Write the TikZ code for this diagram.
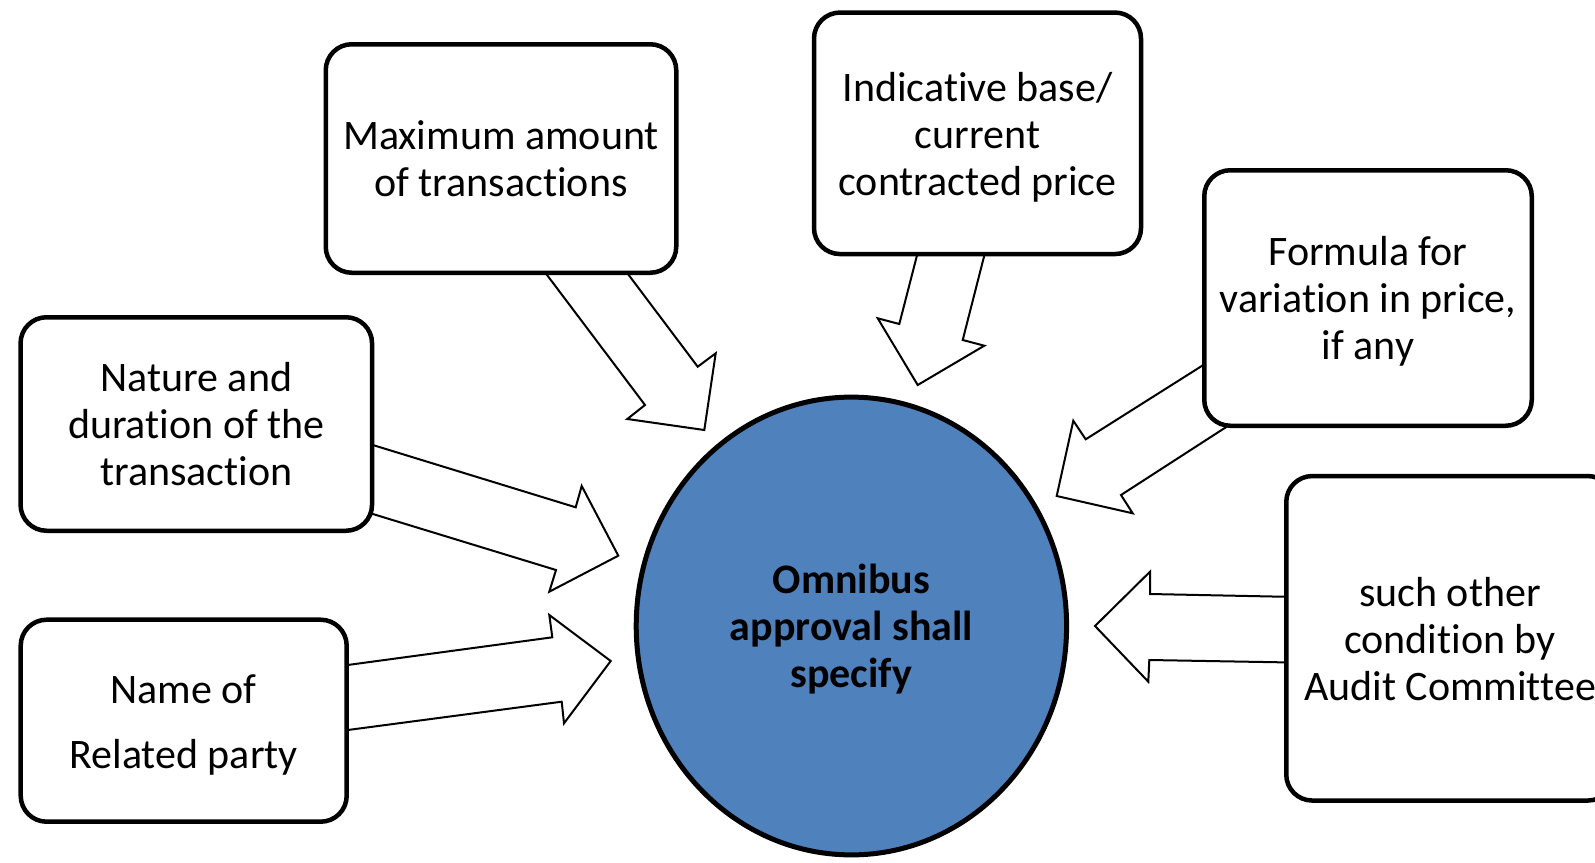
\documentclass[tikz,border=0pt]{standalone}
\usepackage{fontspec}
\setmainfont{Carlito}[Ligatures={NoCommon}]
\usetikzlibrary{shapes.geometric}
\definecolor{ofblue}{HTML}{4F81BD}
\begin{document}
\begin{tikzpicture}[x=1pt,y=-1pt,
 infobox/.style={draw=black, fill=white, line width=4.5pt, rounded corners=26pt, inner sep=0pt},
 boxtext/.style={align=center, inner sep=0pt, font=\fontsize{42}{47}\selectfont},
 blockarrow/.style={draw=black, fill=white, line width=2pt, line join=miter},
 hub/.style={ellipse, draw=black, fill=ofblue, line width=5pt, inner sep=0pt},
 hubtext/.style={align=center, inner sep=0pt, font=\fontsize{42}{47}\selectfont\bfseries}]
\useasboundingbox (0,0) rectangle (1595,862);
\clip (0,0) rectangle (1595,862);
% block arrows
\draw[blockarrow] (539.5,265) -- (645,405) -- (627.3,419) -- (704.3,430) -- (715.7,353.3) -- (697.7,366.7) -- (621.2,265) -- cycle;
\draw[blockarrow] (918.9,248) -- (899.3,324) -- (877.7,318.3) -- (917.7,385) -- (984.3,345.7) -- (962.7,340) -- (986.2,248) -- cycle;
\draw[blockarrow] (1211.7,359.7) -- (1085.7,439.3) -- (1073.3,420.7) -- (1056.7,496) -- (1132.7,513.3) -- (1121,495) -- (1234.3,421.8) -- cycle;
\draw[blockarrow] (365,442.6) -- (575.7,507.3) -- (581.7,486) -- (618.3,555.7) -- (549.3,591.7) -- (556,570) -- (365,511.6) -- cycle;
\draw[blockarrow] (338,666.3) -- (552.3,637.3) -- (549.3,615) -- (610.7,661) -- (564,723.3) -- (561.7,701.7) -- (338,731.3) -- cycle;
\draw[blockarrow] (1292,596.9) -- (1150,594) -- (1150,571.7) -- (1095,626) -- (1148.3,681.7) -- (1149.3,660) -- (1292,662.5) -- cycle;
% boxes
\node[infobox, minimum width=350.5pt, minimum height=228.5pt] (maxamt) at (501,158.5) {};
\node[boxtext] (maxamt-t) at (maxamt.center) {Maximum amount\\of transactions};
\node[infobox, minimum width=327pt, minimum height=241.5pt] (indic) at (977.5,133.3) {};
\node[boxtext] (indic-t) at ([yshift=-4pt]indic.center) {Indicative base/\\current\\contracted price};
\node[infobox, minimum width=327.5pt, minimum height=255.5pt] (formula) at (1368,298) {};
\node[boxtext] (formula-t) at ([yshift=-3pt]formula.center) {Formula for\\variation in price,\\if any};
\node[infobox, minimum width=351.5pt, minimum height=213.5pt] (nature) at (196.3,424) {};
\node[boxtext] (nature-t) at (nature.center) {Nature and\\duration of the\\transaction};
\node[infobox, minimum width=326pt, minimum height=202pt] (name) at (183.7,720.7) {};
\node[boxtext] (name-t) at ([yshift=-4pt]name.center) {Name of\\[18pt]Related party};
\node[infobox, minimum width=327.5pt, minimum height=324.5pt] (such) at (1450,638.3) {};
\node[boxtext] (such-t) at ([yshift=-1pt]such.center) {such other\\condition by\\Audit Committee};
% hub
\node[hub, minimum width=430.4pt, minimum height=457.8pt] (hub) at (851.4,626) {};
\node[hubtext] (hub-t) at ([yshift=-3.5pt]hub.center) {Omnibus\\approval shall\\specify};
\end{tikzpicture}
\end{document}
